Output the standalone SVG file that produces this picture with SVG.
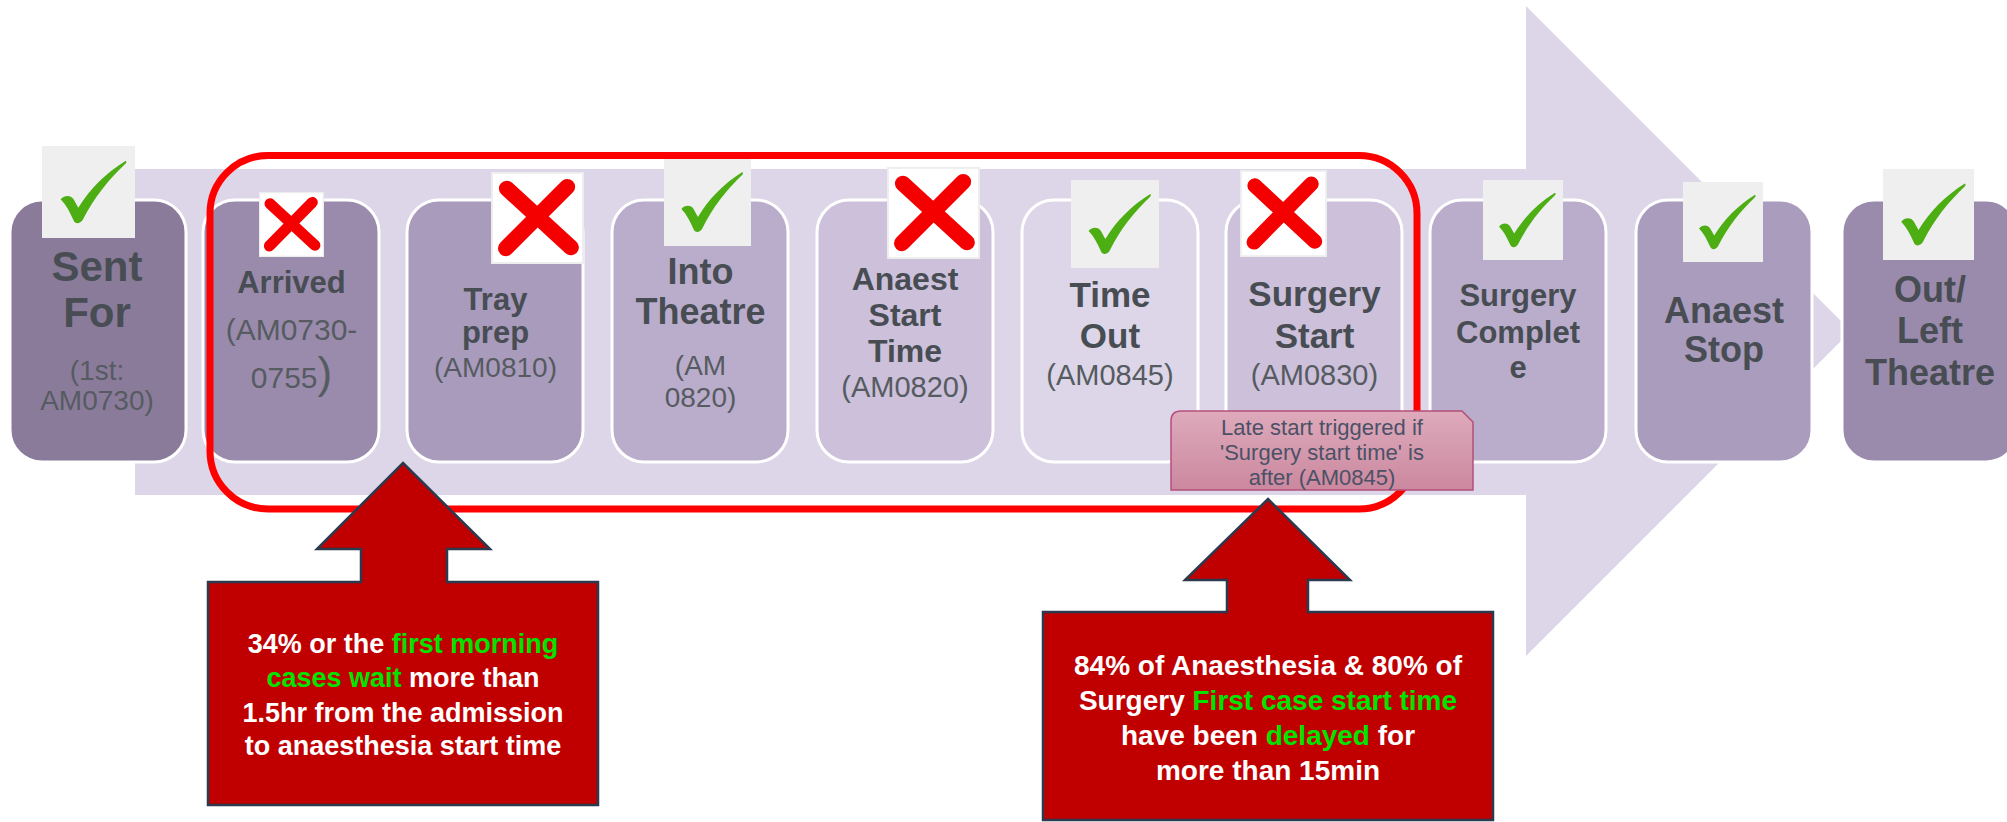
<svg xmlns="http://www.w3.org/2000/svg" xmlns:xlink="http://www.w3.org/1999/xlink" width="2007" height="822" viewBox="0 0 2007 822">
<style>
  .box { stroke: #FFFFFF; stroke-width: 3; }
  .t { font-family: "Liberation Sans", Arial, sans-serif; font-weight: bold; fill: #474D53; text-anchor: middle; }
  .s { font-family: "Liberation Sans", Arial, sans-serif; font-weight: normal; fill: #565B61; text-anchor: middle; }
  .note { font-family: "Liberation Sans", Arial, sans-serif; font-size: 22px; fill: #4B5166; text-anchor: middle; }
  .call { fill: #C00000; stroke: #2B3A4E; stroke-width: 2.5; stroke-linejoin: miter; }
  .ct { font-family: "Liberation Sans", Arial, sans-serif; font-weight: bold; fill: #FFFFFF; text-anchor: middle; }
  .g { fill: #00E400; }
</style>
<defs>
  <symbol id="check" viewBox="0 0 100 100" preserveAspectRatio="none">
    <rect x="0" y="0" width="100" height="100" fill="#EFEFEF"/>
    <path d="M20,58 C24,53 31,53 34,58 L39,67 C52,46 68,30 90,16 C91,17 91,18 90,19 C72,36 56,56 44,80 C42,84 36,86 34,81 C30,72 26,64 20,58 Z" fill="#4DAE14"/>
  </symbol>
  <symbol id="cross" viewBox="0 0 100 100" preserveAspectRatio="none">
    <rect x="1" y="1" width="98" height="98" fill="#FFFFFF" stroke="#EDEDED" stroke-width="2"/>
    <path d="M17,18 L86,82" stroke="#F50000" stroke-width="17" stroke-linecap="round"/>
    <path d="M82,16 L16,83" stroke="#F50000" stroke-width="17" stroke-linecap="round"/>
  </symbol>
  <linearGradient id="pink" x1="0" y1="0" x2="0" y2="1">
    <stop offset="0" stop-color="#DEAABC"/>
    <stop offset="1" stop-color="#CB889E"/>
  </linearGradient>
</defs>

<rect x="0" y="0" width="2007" height="822" fill="#FFFFFF"/>

<g id="connectors">
  <path d="M135,169 L1526,169 L1526,6 L1851,331 L1526,656 L1526,495 L135,495 Z" fill="#DCD6E8"/>
</g>

<g id="node-sent-for">
  <rect class="box" x="10" y="200" width="176" height="262" rx="32" fill="#8A7B9B"/>
  <use xlink:href="#check" href="#check" x="42" y="146" width="93" height="92"/>
  <text class="t" font-size="42" x="97" y="281">Sent</text>
  <text class="t" font-size="42" x="97" y="327">For</text>
  <text class="s" font-size="28" x="97" y="380">(1st:</text>
  <text class="s" font-size="28" x="97" y="410">AM0730)</text>
</g>

<g id="node-arrived">
  <rect class="box" x="203" y="200" width="176" height="262" rx="32" fill="#9A8BAD"/>
  <use xlink:href="#cross" href="#cross" x="259" y="192" width="65" height="65"/>
  <text class="t" font-size="31" x="291.5" y="293">Arrived</text>
  <text class="s" font-size="30" x="291.5" y="340">(AM0730-</text>
  <text class="s" font-size="30" x="291.5" y="388">0755<tspan font-size="44">)</tspan></text>
</g>

<g id="node-tray-prep">
  <rect class="box" x="407" y="200" width="176" height="262" rx="32" fill="#A99BBC"/>
  <use xlink:href="#cross" href="#cross" x="491" y="172" width="93" height="92"/>
  <text class="t" font-size="31" x="495.5" y="310">Tray</text>
  <text class="t" font-size="31" x="495.5" y="343">prep</text>
  <text class="s" font-size="28" x="495.5" y="377">(AM0810)</text>
</g>

<g id="node-into-theatre">
  <rect class="box" x="612" y="200" width="176" height="262" rx="32" fill="#BAADCB"/>
  <use xlink:href="#check" href="#check" x="664" y="158" width="87" height="88"/>
  <text class="t" font-size="36" x="700.5" y="284">Into</text>
  <text class="t" font-size="36" x="700.5" y="324">Theatre</text>
  <text class="s" font-size="28" x="700.5" y="375">(AM</text>
  <text class="s" font-size="28" x="700.5" y="407">0820)</text>
</g>

<g id="node-anaest-start">
  <rect class="box" x="817" y="200" width="176" height="262" rx="32" fill="#CCC0DA"/>
  <use xlink:href="#cross" href="#cross" x="887" y="167" width="93" height="92"/>
  <text class="t" font-size="32" x="905" y="290">Anaest</text>
  <text class="t" font-size="32" x="905" y="326">Start</text>
  <text class="t" font-size="32" x="905" y="362">Time</text>
  <text class="s" font-size="29" x="905" y="397">(AM0820)</text>
</g>

<g id="node-time-out">
  <rect class="box" x="1022" y="200" width="176" height="262" rx="32" fill="#DCD6E8"/>
  <use xlink:href="#check" href="#check" x="1071" y="180" width="88" height="88"/>
  <text class="t" font-size="35" x="1110" y="307">Time</text>
  <text class="t" font-size="35" x="1110" y="348">Out</text>
  <text class="s" font-size="29" x="1110" y="385">(AM0845)</text>
</g>

<g id="node-surgery-start">
  <rect class="box" x="1226" y="200" width="176" height="262" rx="32" fill="#CCC0DA"/>
  <use xlink:href="#cross" href="#cross" x="1240" y="170" width="87" height="87"/>
  <text class="t" font-size="35" x="1314.5" y="306">Surgery</text>
  <text class="t" font-size="35" x="1314.5" y="348">Start</text>
  <text class="s" font-size="29" x="1314.5" y="385">(AM0830)</text>
</g>

<g id="node-surgery-complete">
  <rect class="box" x="1430" y="200" width="176" height="262" rx="32" fill="#BAADCB"/>
  <use xlink:href="#check" href="#check" x="1483" y="180" width="80" height="80"/>
  <text class="t" font-size="31" x="1518" y="306">Surgery</text>
  <text class="t" font-size="31" x="1518" y="343">Complet</text>
  <text class="t" font-size="31" x="1518" y="378">e</text>
</g>

<g id="node-anaest-stop">
  <rect class="box" x="1636" y="200" width="176" height="262" rx="32" fill="#AA9CBC"/>
  <use xlink:href="#check" href="#check" x="1683" y="182" width="80" height="80"/>
  <text class="t" font-size="36" x="1724" y="323">Anaest</text>
  <text class="t" font-size="36" x="1724" y="362">Stop</text>
</g>

<g id="node-out-left-theatre">
  <rect class="box" x="1842" y="200" width="176" height="262" rx="32" fill="#9A8BAD"/>
  <use xlink:href="#check" href="#check" x="1883" y="169" width="91" height="91"/>
  <text class="t" font-size="36" x="1930" y="302">Out/</text>
  <text class="t" font-size="36" x="1930" y="343">Left</text>
  <text class="t" font-size="36" x="1930" y="385">Theatre</text>
</g>

<g id="highlight-frame">
  <rect x="210" y="155.5" width="1207" height="353.5" rx="58" fill="none" stroke="#FF0000" stroke-width="7"/>
</g>

<g id="note-late-start">
  <path d="M1171,421 Q1171,411 1181,411 L1462,411 L1473,422 L1473,490 L1171,490 Z" fill="url(#pink)" stroke="#B54F7A" stroke-width="1.5"/>
  <text class="note" x="1322" y="435">Late start triggered if</text>
  <text class="note" x="1322" y="460">'Surgery start time' is</text>
  <text class="note" x="1322" y="485">after (AM0845)</text>
</g>

<g id="callout-left">
  <path class="call" d="M403,463 L490,549 L447,549 L447,582 L598,582 L598,805 L208,805 L208,582 L361,582 L361,549 L317,549 Z"/>
  <text class="ct" font-size="27" x="403" y="653">34% or the <tspan class="g">first morning</tspan></text>
  <text class="ct" font-size="27" x="403" y="687"><tspan class="g">cases wait</tspan> more than</text>
  <text class="ct" font-size="27" x="403" y="722">1.5hr from the admission</text>
  <text class="ct" font-size="27" x="403" y="755">to anaesthesia start time</text>
</g>

<g id="callout-right">
  <path class="call" d="M1268,499 L1350,580 L1308,580 L1308,612 L1493,612 L1493,820 L1043,820 L1043,612 L1227,612 L1227,580 L1185,580 Z"/>
  <text class="ct" font-size="28" x="1268" y="675">84% of Anaesthesia &amp; 80% of</text>
  <text class="ct" font-size="28" x="1268" y="710">Surgery <tspan class="g">First case start time</tspan></text>
  <text class="ct" font-size="28" x="1268" y="745">have been <tspan class="g">delayed</tspan> for</text>
  <text class="ct" font-size="28" x="1268" y="780">more than 15min</text>
</g>
</svg>
